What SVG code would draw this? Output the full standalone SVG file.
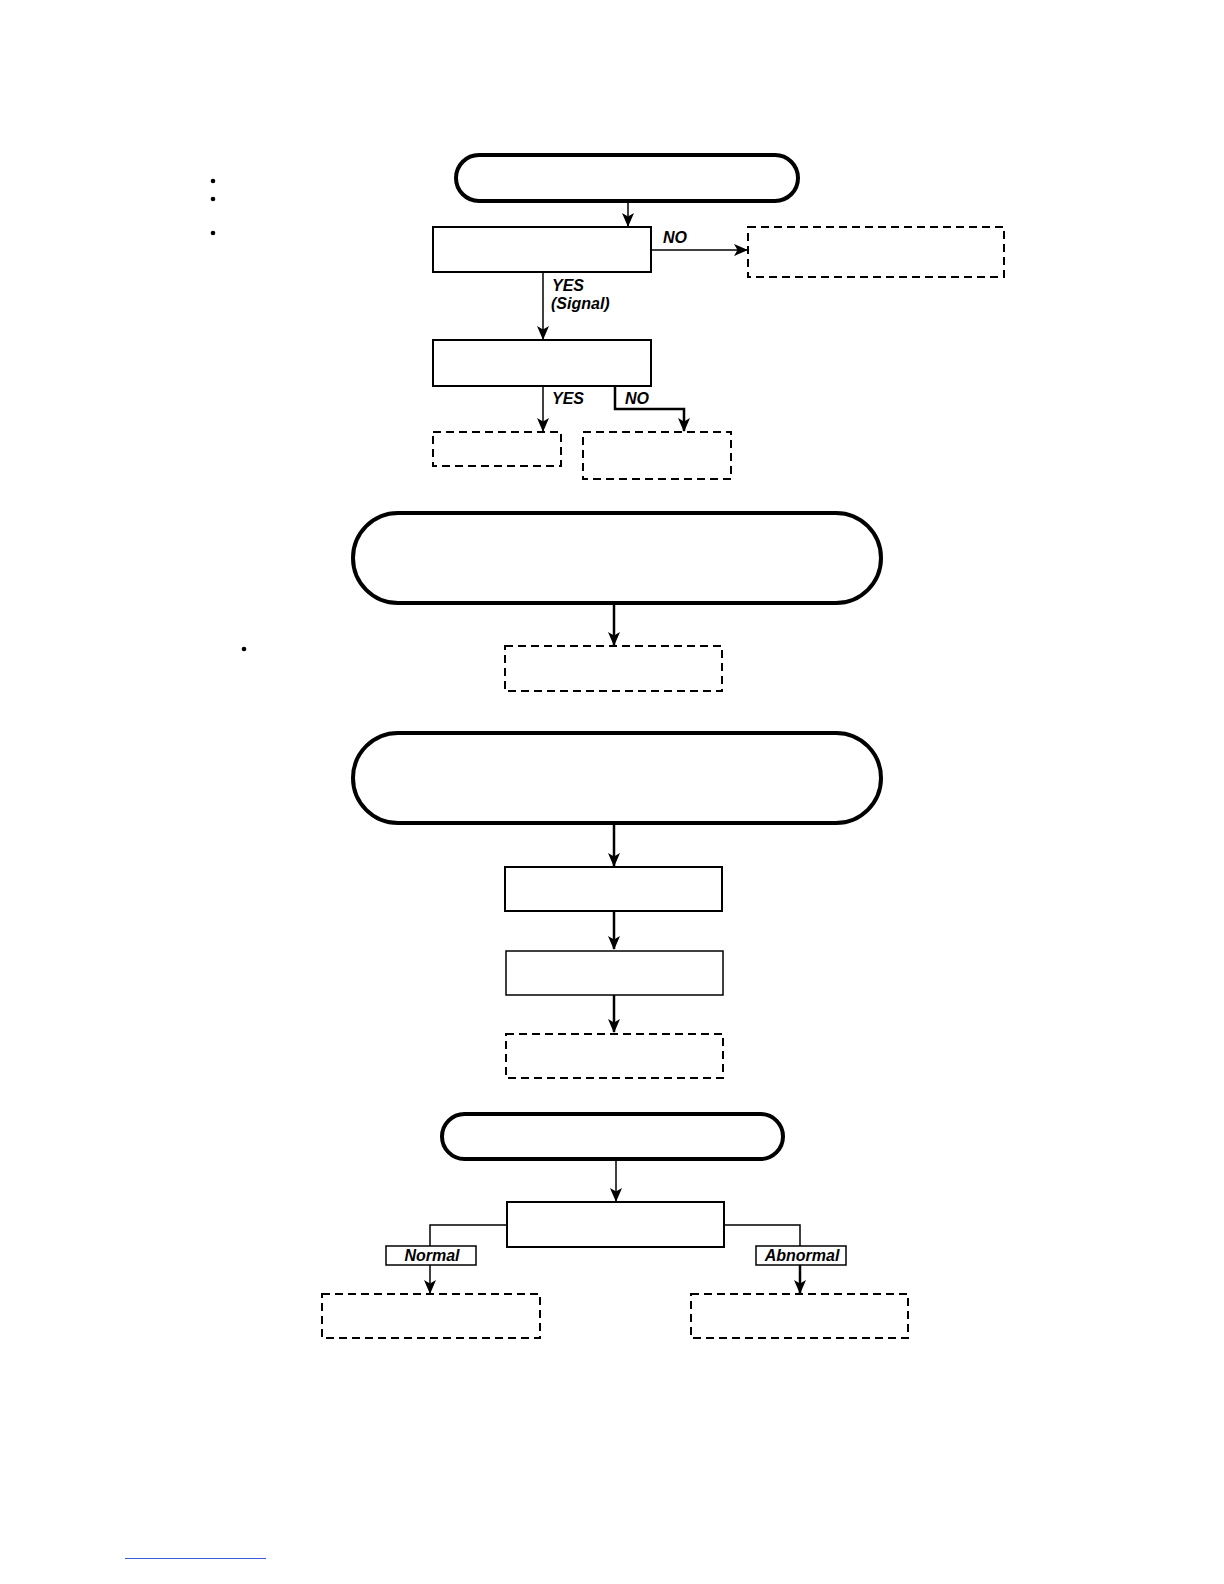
<svg xmlns="http://www.w3.org/2000/svg" width="1224" height="1584" viewBox="0 0 1224 1584">
<style>
.term{fill:#fff;stroke:#000;stroke-width:4}
.box{fill:#fff;stroke:#000;stroke-width:2}
.thin{fill:#fff;stroke:#000;stroke-width:1.5}
.dash{fill:#fff;stroke:#000;stroke-width:2;stroke-dasharray:8 5}
.edge{fill:none;stroke:#000;stroke-width:1.5;marker-end:url(#arr)}
.edge2{fill:none;stroke:#000;stroke-width:2.5;marker-end:url(#arr)}
.lbl{font-family:"Liberation Sans",Arial,sans-serif;font-weight:bold;font-style:italic;font-size:16px;fill:#000}
</style>
<defs>
<marker id="arr" markerWidth="14" markerHeight="14" viewBox="0 0 14 14" refX="13" refY="7" orient="auto" markerUnits="userSpaceOnUse">
<path d="M0,1 L14,7 L0,13 L3.5,7 Z" fill="#000"/>
</marker>
</defs>
<rect width="1224" height="1584" fill="#fff"/>
<g id="bullets" fill="#000">
<circle cx="213" cy="181" r="2.3"/>
<circle cx="213" cy="199" r="2.3"/>
<circle cx="213" cy="233" r="2.3"/>
<circle cx="244" cy="649" r="2.3"/>
</g>
<g id="connectors">
<path class="edge" d="M628,201 V226"/>
<path class="edge" d="M651,250 H747"/>
<path class="edge" d="M543,272 V339"/>
<path class="edge" d="M543,386 V431"/>
<path class="edge2" d="M615,386 V409 H684 V431"/>
<path class="edge2" d="M614,603 V645"/>
<path class="edge2" d="M614,823 V866"/>
<path class="edge2" d="M614,911 V949"/>
<path class="edge2" d="M614,995 V1032"/>
<path class="edge" d="M616,1159 V1201"/>
<path fill="none" stroke="#000" stroke-width="1.5" d="M507,1225 H430 V1246"/>
<path class="edge" d="M430,1265 V1293"/>
<path fill="none" stroke="#000" stroke-width="1.5" d="M724,1225 H800 V1246"/>
<path class="edge2" d="M800,1265 V1293"/>
</g>
<g id="edge-labels">
<text class="lbl" x="663" y="243">NO</text>
<text class="lbl" x="552" y="291">YES</text>
<text class="lbl" x="551" y="309">(Signal)</text>
<text class="lbl" x="552" y="404">YES</text>
<text class="lbl" x="625" y="404">NO</text>
</g>
<g id="start1"><rect class="term" x="456" y="155" width="342" height="46" rx="23"/></g>
<g id="check1"><rect class="box" x="433" y="227" width="218" height="45"/></g>
<g id="no1"><rect class="dash" x="748" y="227" width="256" height="50"/></g>
<g id="check2"><rect class="box" x="433" y="340" width="218" height="46"/></g>
<g id="yes2"><rect class="dash" x="433" y="432" width="128" height="34"/></g>
<g id="no2"><rect class="dash" x="583" y="432" width="148" height="47"/></g>
<g id="start2"><rect class="term" x="353" y="513" width="528" height="90" rx="45"/></g>
<g id="result2"><rect class="dash" x="505" y="646" width="217" height="45"/></g>
<g id="start3"><rect class="term" x="353" y="733" width="528" height="90" rx="45"/></g>
<g id="step3a"><rect class="box" x="505" y="867" width="217" height="44"/></g>
<g id="step3b"><rect class="thin" x="506" y="951" width="217" height="44"/></g>
<g id="result3"><rect class="dash" x="506" y="1034" width="217" height="44"/></g>
<g id="start4"><rect class="term" x="442" y="1114" width="341" height="45" rx="22.5"/></g>
<g id="check4"><rect class="box" x="507" y="1202" width="217" height="45"/></g>
<g id="normal-label"><rect class="thin" x="386" y="1246" width="90" height="19"/><text class="lbl" x="432" y="1261" text-anchor="middle">Normal</text></g>
<g id="abnormal-label"><rect class="thin" x="756" y="1246" width="90" height="19"/><text class="lbl" x="802" y="1261" text-anchor="middle">Abnormal</text></g>
<g id="normal"><rect class="dash" x="322" y="1294" width="218" height="44"/></g>
<g id="abnormal"><rect class="dash" x="691" y="1294" width="217" height="44"/></g>
<line x1="125" y1="1558.5" x2="266" y2="1558.5" stroke="#3b5bd6" stroke-width="1"/>
</svg>
